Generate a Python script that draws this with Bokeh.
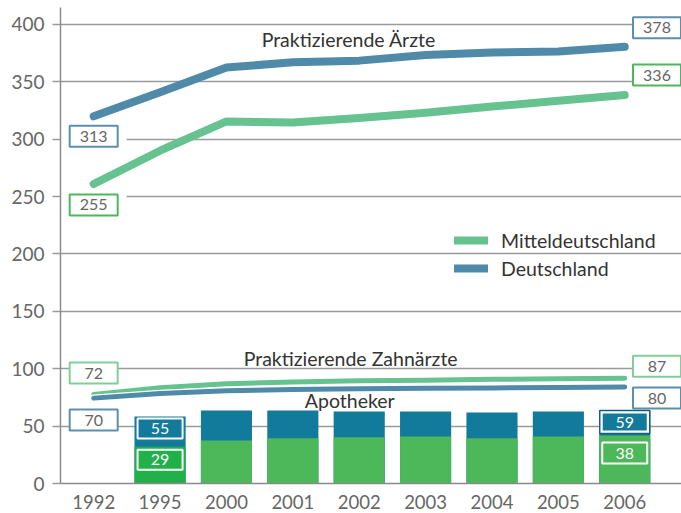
from bokeh.plotting import figure
from bokeh.models import Range1d, FixedTicker, Legend, LegendItem
from bokeh.core.properties import value
from bokeh.embed import file_html
from bokeh.resources import INLINE

# ---------------- data ----------------
years = ["1992", "1995", "2000", "2001", "2002", "2003", "2004", "2005", "2006"]
aerzte_deutschland = [320, 341, 362.5, 367, 368.5, 373.5, 375.5, 376.5, 380.5]
aerzte_mittel = [261, 290, 315.5, 314.5, 318.5, 323, 328.5, 333.5, 338.5]
zahn_mittel = [77.5, 83.5, 87, 88.5, 89.5, 90, 90.8, 91.3, 91.8]
zahn_deutschland = [74.4, 78.5, 80.8, 82, 82.5, 83, 83.3, 83.7, 84]
apo_years = ["1995", "2000", "2001", "2002", "2003", "2004", "2005", "2006"]
apo_deutschland = [58.4, 63.6, 63.6, 62.7, 62.7, 61.9, 62.7, 63.6]
apo_mittel = [32, 37.5, 39.5, 40.4, 41, 39.5, 41, 41.8]
y_ticks = [0, 50, 100, 150, 200, 250, 300, 350, 400]

# printed value labels (first year, last year)
aerzte_de_labels = ["313", "378"]
aerzte_md_labels = ["255", "336"]
zahn_md_labels = ["72", "87"]
zahn_de_labels = ["70", "80"]
apo_de_labels = ["55", "59"]
apo_md_labels = ["29", "38"]

series_titles = ["Praktizierende Ärzte", "Praktizierende Zahnärzte", "Apotheker"]
legend_names = ["Mitteldeutschland", "Deutschland"]

# ---------------- style ----------------
FONT = "Lato"
DE_LINE = "#4f8aa8"
MD_LINE = "#66c28e"
DE_BAR = "#127a9a"
MD_BAR = "#4cb85a"
MD_BAR_1995 = "#22b04a"
GRID = "#9a9a9a"
AXIS = "#8a8a8a"
TICK_TEXT = "#666666"
TEXT = "#333333"
BOX_TEXT = "#666666"
DE_BOX = "#5b8fae"
MD_BOX_DARK = "#4cb85a"
MD_BOX_LIGHT = "#7fcf9a"

FIG_W, FIG_H = 681, 513
B_LEFT, B_BOTTOM, B_TOP = 60, 30, 7
FRAME_H = FIG_H - B_BOTTOM - B_TOP
X0, X1 = -0.5, 8.855
Y0, Y1 = 0, 414.8
PPU_Y = FRAME_H / (Y1 - Y0)

def yoff(v, px):
    return v + px / PPU_Y

idx = list(range(len(years)))
apo_idx = [years.index(y) for y in apo_years]

p = figure(width=FIG_W, height=FIG_H, output_backend="svg", toolbar_location=None,
           x_range=Range1d(X0, X1), y_range=Range1d(Y0, Y1),
           min_border_left=B_LEFT, min_border_right=0, min_border_top=B_TOP,
           min_border_bottom=B_BOTTOM)
p.outline_line_color = None
p.background_fill_color = "white"
p.border_fill_color = "white"

# axes
p.xaxis.ticker = FixedTicker(ticks=idx)
p.xaxis.major_label_overrides = {i: y for i, y in enumerate(years)}
p.xaxis.major_tick_line_color = None
p.xaxis.major_tick_out = 0
p.xaxis.major_tick_in = 0
p.xaxis.minor_tick_line_color = None
p.xaxis.minor_tick_out = 0
p.xaxis.axis_line_color = AXIS
p.xaxis.axis_line_width = 1.5
p.xaxis.major_label_standoff = 11
p.xaxis.major_label_text_font = FONT
p.xaxis.major_label_text_font_size = "18.5px"
p.xaxis.major_label_text_line_height = 1.0
p.xaxis.major_label_text_color = TICK_TEXT

p.yaxis.ticker = FixedTicker(ticks=y_ticks)
p.yaxis.major_tick_out = 8
p.yaxis.major_tick_in = 0
p.yaxis.major_tick_line_color = GRID
p.yaxis.major_tick_line_width = 1.3
p.yaxis.minor_tick_line_color = None
p.yaxis.axis_line_color = AXIS
p.yaxis.axis_line_width = 1.5
p.yaxis.major_label_standoff = 8
p.yaxis.major_label_text_font = FONT
p.yaxis.major_label_text_font_size = "19px"
p.yaxis.major_label_text_color = TICK_TEXT

p.xgrid.grid_line_color = None
p.ygrid.ticker = FixedTicker(ticks=y_ticks[1:])
p.ygrid.grid_line_color = GRID
p.ygrid.grid_line_width = 1.3

# bars (Apotheker)
md_colors = [MD_BAR_1995] + [MD_BAR] * (len(apo_years) - 1)
p.vbar(x=apo_idx, top=apo_deutschland, bottom=0, width=0.77, fill_color=DE_BAR, line_color=None)
p.vbar(x=apo_idx, top=apo_mittel, bottom=0, width=0.77, fill_color=md_colors, line_color=None)

# white masks behind left Ärzte boxes
p.rect(x=[0, 0], y=[yoff(aerzte_deutschland[0], -20), yoff(aerzte_mittel[0], -21)],
       width=66, height=26, width_units="screen", height_units="screen",
       fill_color="white", line_color=None)

# Zahnärzte lines
p.line(idx, zahn_mittel, line_width=7.5, color="white", line_cap="round", line_join="round")
p.line(idx, zahn_mittel, line_width=5, color=MD_LINE, line_cap="round", line_join="round")
p.line(idx, zahn_deutschland, line_width=7.5, color="white", line_cap="round", line_join="round")
p.line(idx, zahn_deutschland, line_width=5, color=DE_LINE, line_cap="round", line_join="round")

# Ärzte lines
r_md = p.line(idx, aerzte_mittel, line_width=8, color=MD_LINE, line_cap="round", line_join="round")
r_de = p.line(idx, aerzte_deutschland, line_width=8, color=DE_LINE, line_cap="round", line_join="round")

# value boxes
XL, XR = 0, 8.486
def box(x, y, txt, border, fill="white", tcolor=BOX_TEXT, w=48, h=21, lw=2):
    p.rect(x=[x], y=[y], width=w, height=h, width_units="screen", height_units="screen",
           fill_color=fill, line_color=border, line_width=lw)
    p.text(x=[x], y=[y], text=[txt], text_align="center", text_baseline="middle",
           text_font=value(FONT), text_font_size="16px", text_color=tcolor)

box(XL, yoff(aerzte_deutschland[0], -20), aerzte_de_labels[0], DE_BOX)
box(XR, yoff(aerzte_deutschland[-1], 19), aerzte_de_labels[1], DE_BOX)
box(XL, yoff(aerzte_mittel[0], -21), aerzte_md_labels[0], MD_BOX_DARK)
box(XR, yoff(aerzte_mittel[-1], 20), aerzte_md_labels[1], MD_BOX_DARK)
box(XL, yoff(zahn_mittel[0], 21.5), zahn_md_labels[0], MD_BOX_LIGHT)
box(XR, yoff(zahn_mittel[-1], 12), zahn_md_labels[1], MD_BOX_LIGHT)
box(XL, yoff(zahn_deutschland[0], -22), zahn_de_labels[0], DE_BOX)
box(XR, yoff(zahn_deutschland[-1], -11), zahn_de_labels[1], DE_BOX)

# bar boxes
b0, b1 = apo_idx[0], apo_idx[-1]
box(b0, yoff(apo_deutschland[0], -12), apo_de_labels[0], "white", fill=DE_BAR,
    tcolor="white", w=45, h=20, lw=2)
box(b0, yoff(apo_mittel[0], -13), apo_md_labels[0], "white", fill=MD_BAR_1995,
    tcolor="white", w=45, h=20, lw=2)
p.rect(x=[b1], y=[yoff(apo_deutschland[-1], -11.5)], width=50, height=23,
       width_units="screen", height_units="screen", fill_color="white",
       line_color="#17607a", line_width=1.5)
box(b1, yoff(apo_deutschland[-1], -11.5), apo_de_labels[1], None, fill=DE_BAR,
    tcolor="white", w=44, h=17, lw=0)
box(b1, yoff(apo_mittel[-1], -17.5), apo_md_labels[1], "white", fill=MD_BAR,
    tcolor="white", w=45, h=21, lw=2)

# series titles
p.text(x=[2.53, 2.26, 3.18], y=[387, 109, 72], text=series_titles,
       text_align="left", text_baseline="alphabetic", text_font=value(FONT),
       text_font_size="19.5px", text_color=TEXT)

# legend
legend = Legend(items=[LegendItem(label=value(legend_names[0]), renderers=[r_md]),
                       LegendItem(label=value(legend_names[1]), renderers=[r_de])],
                location=(394, 201), orientation="vertical",
                glyph_width=34, glyph_height=28, label_height=28, label_standoff=13,
                spacing=0, padding=0, margin=0, border_line_color=None,
                background_fill_alpha=0, label_text_font=FONT,
                label_text_font_size="19.5px", label_text_color=TEXT)
p.add_layout(legend)

open("out.html", "w").write(file_html(p, INLINE))
